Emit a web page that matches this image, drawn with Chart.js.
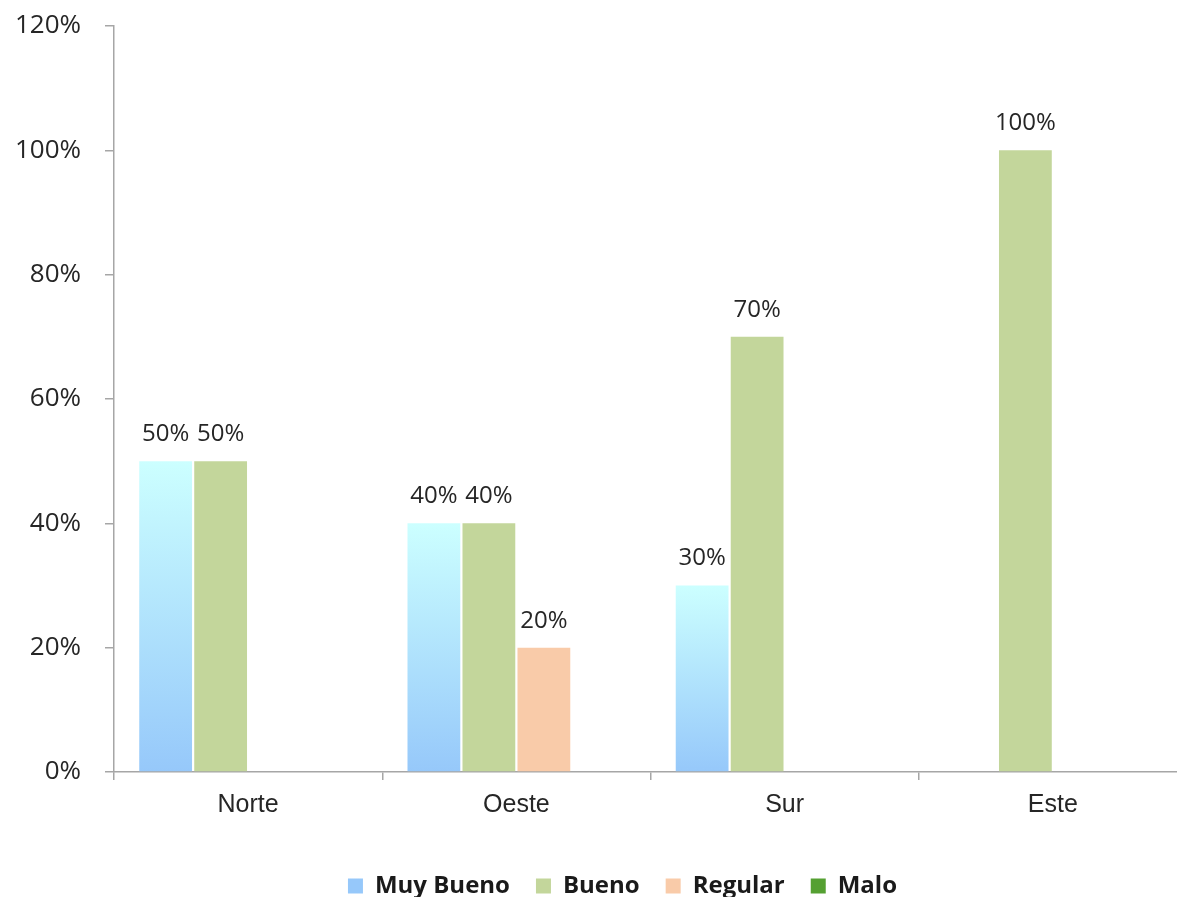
<!DOCTYPE html>
<html>
<head>
<meta charset="utf-8">
<script src="https://cdn.jsdelivr.net/npm/chart.js@4"></script>
<style>
  html, body { margin: 0; padding: 0; background: #fff; overflow: hidden; }
  #wrap { width: 1187px; height: 908px; }
</style>
</head>
<body>
<div id="wrap"><canvas id="grafico"></canvas></div>
<script>
const zonas = ['Norte', 'Oeste', 'Sur', 'Este'];
const muy_bueno = [50, 40, 30, 0];
const bueno = [50, 40, 70, 100];
const regular = [0, 20, 0, 0];
const malo = [0, 0, 0, 0];
const ticks_y = [0, 20, 40, 60, 80, 100, 120];

// degradado por barra, como en la planilla original
function relleno_muy_bueno(ctx) {
    const chart = ctx.chart;
    if (!chart.chartArea || ctx.type !== 'data') return '#B3E2FC';
    const y = chart.scales.y;
    const top = y.getPixelForValue(ctx.raw);
    const base = y.getPixelForValue(0);
    if (base - top < 1) return '#B3E2FC';
    const g = chart.ctx.createLinearGradient(0, top, 0, base);
    g.addColorStop(0, '#CCFFFF');
    g.addColorStop(1, '#96C8FA');
    return g;
}

const etiquetas = {
    id: 'etiquetas',
    afterDatasetsDraw(chart) {
        const c = chart.ctx;
        c.save();
        c.font = '24px "Open Sans"';
        c.fillStyle = '#262626';
        c.textAlign = 'center';
        c.textBaseline = 'middle';
        chart.data.datasets.forEach((ds, i) => {
            chart.getDatasetMeta(i).data.forEach((bar, j) => {
                const v = ds.data[j];
                if (!v) return;
                c.fillText(v + '%', bar.x, bar.y - 27);
            });
        });
        c.restore();
    }
};

// la leyenda del original no esta centrada en el lienzo
const mover_leyenda = {
    id: 'mover_leyenda',
    afterLayout(chart) {
        chart.legend.left += 29;
        chart.legend.right += 29;
    }
};

const gris = '#a6a6a6';

new Chart(document.getElementById('grafico'), {
    type: 'bar',
    data: {
        labels: zonas,
        datasets: [
            { label: 'Muy Bueno', data: muy_bueno, backgroundColor: relleno_muy_bueno },
            { label: 'Bueno', data: bueno, backgroundColor: '#C3D69B' },
            { label: 'Regular', data: regular, backgroundColor: '#F9CBA9' },
            { label: 'Malo', data: malo, backgroundColor: '#55A032' }
        ]
    },
    options: {
        responsive: true,
        maintainAspectRatio: false,
        animation: false,
        layout: { padding: { left: 0, right: 0, top: 26, bottom: 0 } },
        datasets: {
            bar: { categoryPercentage: 0.82, barPercentage: 0.96, borderWidth: 0 }
        },
        scales: {
            x: {
                grid: { display: true, drawOnChartArea: false, tickLength: 8, color: gris, lineWidth: 1.5 },
                border: { color: gris, width: 1.5 },
                ticks: {
                    color: '#262626',
                    font: { family: '"Liberation Sans", Arial, sans-serif', size: 25 },
                    padding: 10
                },
                afterFit(scale) { scale.height = 76; }
            },
            y: {
                min: 0,
                max: 120,
                afterBuildTicks(scale) { scale.ticks = ticks_y.map(v => ({ value: v })); },
                grid: { display: true, drawOnChartArea: false, tickLength: 9, color: gris, lineWidth: 1.5 },
                border: { color: gris, width: 1.5 },
                ticks: {
                    color: '#262626',
                    font: { family: '"Open Sans", sans-serif', size: 26 },
                    padding: 24,
                    callback: v => v + '%'
                },
                afterFit(scale) {
                    scale.width = 114;
                    scale.paddingTop = 0;
                    scale.paddingBottom = 0;
                }
            }
        },
        plugins: {
            legend: {
                position: 'bottom',
                labels: {
                    color: '#1a1a1a',
                    font: { family: '"Open Sans", sans-serif', size: 24, weight: 'bold' },
                    boxWidth: 15,
                    boxHeight: 15,
                    padding: 26
                }
            },
            tooltip: { enabled: false }
        }
    },
    plugins: [etiquetas, mover_leyenda]
});
</script>
</body>
</html>
